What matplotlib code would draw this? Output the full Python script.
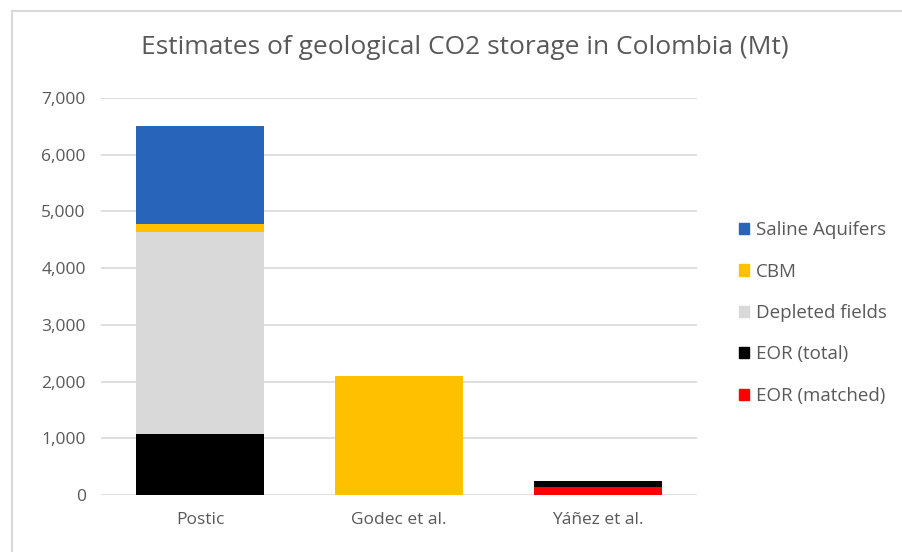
import matplotlib.pyplot as plt
from matplotlib.patches import Rectangle, Patch

studies = ["Postic", "Godec et al.", "Yáñez et al."]
eor_matched = [0, 0, 140]
eor_total = [1075, 0, 110]
depleted = [3565, 0, 0]
cbm = [140, 2100, 0]
saline = [1720, 0, 0]

series = [
    ("EOR (matched)", eor_matched, "#ff0000"),
    ("EOR (total)", eor_total, "#000000"),
    ("Depleted fields", depleted, "#d9d9d9"),
    ("CBM", cbm, "#ffc000"),
    ("Saline Aquifers", saline, "#2864b9"),
]

plt.rcParams["font.family"] = ["Open Sans", "DejaVu Sans"]
txt = "#595959"

fig = plt.figure(figsize=(9.03, 5.52), dpi=100)
ax = fig.add_axes([101 / 903, 1 - 495 / 552, 596 / 903, 397 / 552])

x = list(range(len(studies)))
bottom = [0] * len(studies)
for name, vals, col in series:
    ax.bar(x, vals, width=0.645, bottom=bottom, color=col, label=name, zorder=2)
    bottom = [b + v for b, v in zip(bottom, vals)]

ax.set_xlim(-0.5, 2.5)
ax.set_ylim(0, 7000)
ax.set_yticks(range(0, 7001, 1000))
ax.set_yticklabels([f"{v:,}" for v in range(0, 7001, 1000)])
ax.set_xticks(x)
ax.set_xticklabels(studies)
ax.tick_params(length=0, labelsize=12.5, colors=txt)
ax.tick_params(axis="x", pad=12)
ax.tick_params(axis="y", pad=11)
ax.grid(axis="y", color="#d9d9d9", linewidth=1.2, zorder=0)
for s in ax.spines.values():
    s.set_visible(False)

fig.text(465 / 903, 1 - 48 / 552, "Estimates of geological CO2 storage in Colombia (Mt)",
         ha="center", va="center", fontsize=19, color=txt)

handles = [Patch(color=c) for _, _, c in series][::-1]
labels = [n for n, _, _ in series][::-1]
fig.legend(handles, labels, loc="center left", bbox_to_anchor=(722 / 903, 1 - 313 / 552),
           frameon=False, fontsize=13.5, labelcolor=txt, handlelength=0.55, handleheight=0.55,
           handletextpad=0.35, labelspacing=1.25)

fig.patches.append(Rectangle((12 / 903, -0.1), 1.2, 1.1 - 11 / 552, transform=fig.transFigure,
                             fill=False, edgecolor="#d9d9d9", linewidth=1.5))

fig.savefig("out.png", dpi=100)
